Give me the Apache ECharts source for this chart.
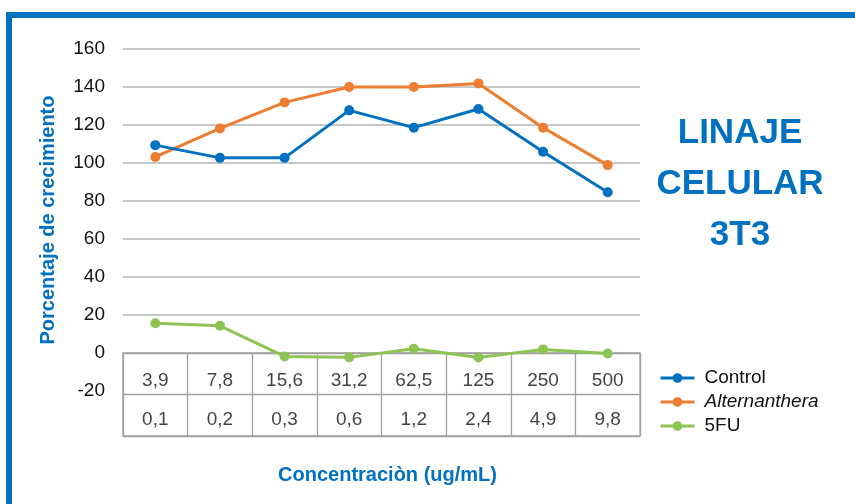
<!DOCTYPE html>
<html>
<head>
<meta charset="utf-8">
<script src="https://cdn.jsdelivr.net/npm/echarts@6/dist/echarts.min.js"></script>
<style>
html,body{margin:0;padding:0;background:#fff;}
#c{width:855px;height:504px;}
</style>
</head>
<body>
<div id="c"></div>
<script>
// ---- data ----
const concUg = ['3,9', '7,8', '15,6', '31,2', '62,5', '125', '250', '500'];
const concSecondRow = ['0,1', '0,2', '0,3', '0,6', '1,2', '2,4', '4,9', '9,8'];
const control = [109.4, 102.7, 102.7, 127.7, 118.6, 128.4, 105.9, 84.6];
const alternanthera = [103.2, 118.2, 131.9, 140, 140, 141.9, 118.6, 98.9];
const fiveFU = [15.7, 14.3, -1.8, -2.3, 2.2, -2.4, 1.9, -0.3];
const yMin = -20, yMax = 160, yStep = 20;
const seriesNames = ['Control', 'Alternanthera', '5FU'];
const seriesColors = ['#0070C0', '#ED7D31', '#8DC454'];

const BLUE = '#0070C0';
const FONT = '"Liberation Sans", Arial, sans-serif';

const chart = echarts.init(document.getElementById('c'), null, {renderer: 'canvas'});

// split line colors: hide lines at -20 and 0 (table occupies that area)
const nLines = Math.round((yMax - yMin) / yStep) + 1;
const splitColors = [];
for (let i = 0; i < nLines; i++) {
  const v = yMin + i * yStep;
  splitColors.push(v <= 0 ? 'rgba(0,0,0,0)' : '#b4b4b4');
}

const row1 = concUg.map((c, i) => [i, 1.5, c]);
const row2 = concSecondRow.map((c, i) => [i, 0.5, c]);

const lineSeries = [control, alternanthera, fiveFU].map((d, k) => ({
  name: seriesNames[k],
  type: 'line',
  xAxisIndex: 0,
  yAxisIndex: 0,
  data: d,
  symbol: 'circle',
  symbolSize: 10,
  lineStyle: {width: 3, color: seriesColors[k]},
  itemStyle: {color: seriesColors[k]},
  z: 5 - k
}));

const tableLabel = (data, dy) => ({
  type: 'scatter',
  xAxisIndex: 1,
  yAxisIndex: 1,
  data: data,
  symbolSize: 1,
  itemStyle: {color: 'rgba(0,0,0,0)'},
  silent: true,
  label: {
    show: true,
    position: 'inside',
    offset: [0, dy],
    formatter: p => p.value[2],
    fontFamily: FONT,
    fontSize: 19,
    color: '#111'
  }
});

chart.setOption({
  animation: false,
  backgroundColor: '#fff',
  grid: [
    {left: 123, right: 215, top: 49, bottom: 113},
    {left: 123, right: 215, top: 353, height: 83, show: true, borderColor: '#a0a0a0', borderWidth: 1.3, backgroundColor: 'transparent'}
  ],
  xAxis: [
    {gridIndex: 0, type: 'category', data: concUg, show: false, boundaryGap: true},
    {
      gridIndex: 1, type: 'category', data: concUg, boundaryGap: true,
      axisLine: {show: false}, axisTick: {show: false}, axisLabel: {show: false},
      splitLine: {show: true, lineStyle: {color: '#a0a0a0', width: 1.3}},
      name: 'Concentraciòn (ug/mL)',
      nameLocation: 'middle',
      nameGap: 29,
      nameTextStyle: {color: BLUE, fontFamily: FONT, fontWeight: 'bold', fontSize: 20, padding: [0, 0, 0, 12]}
    }
  ],
  yAxis: [
    {
      gridIndex: 0, type: 'value', min: yMin, max: yMax, interval: yStep,
      axisLine: {show: false}, axisTick: {show: false},
      axisLabel: {margin: 18, fontFamily: FONT, fontSize: 19, color: '#111'},
      splitLine: {show: true, lineStyle: {color: splitColors, width: 1.5}},
      name: 'Porcentaje de crecimiento',
      nameLocation: 'middle',
      nameGap: 65,
      nameTextStyle: {color: BLUE, fontFamily: FONT, fontWeight: 'bold', fontSize: 20}
    },
    {
      gridIndex: 1, type: 'value', min: 0, max: 2, interval: 1,
      axisLine: {show: false}, axisTick: {show: false}, axisLabel: {show: false},
      splitLine: {show: true, lineStyle: {color: '#a0a0a0', width: 1.3}}
    }
  ],
  legend: {
    data: seriesNames,
    orient: 'vertical',
    left: 659,
    top: 367,
    padding: 0,
    itemWidth: 34,
    itemHeight: 12,
    itemGap: 2,
    lineStyle: {width: 3},
    textStyle: {
      fontFamily: FONT, fontSize: 19, color: '#111', lineHeight: 22, padding: [0, 0, 0, 5],
      rich: {i: {fontStyle: 'italic', fontFamily: FONT, fontSize: 19, color: '#111'}}
    },
    formatter: n => n === 'Alternanthera' ? '{i|' + n + '}' : n
  },
  graphic: [
    {type: 'rect', shape: {x: 6, y: 12, width: 849, height: 6}, style: {fill: BLUE}, z: 100},
    {type: 'rect', shape: {x: 6, y: 12, width: 6, height: 492}, style: {fill: BLUE}, z: 100},
    {
      type: 'text', x: 740, y: 108, z: 100,
      style: {
        text: 'LINAJE\nCELULAR\n3T3',
        fill: BLUE,
        font: 'bold 35px "Liberation Sans", Arial, sans-serif',
        align: 'center',
        verticalAlign: 'top',
        lineHeight: 51
      }
    }
  ],
  series: [...lineSeries, tableLabel(row1, 7), tableLabel(row2, 5)]
});
</script>
</body>
</html>
